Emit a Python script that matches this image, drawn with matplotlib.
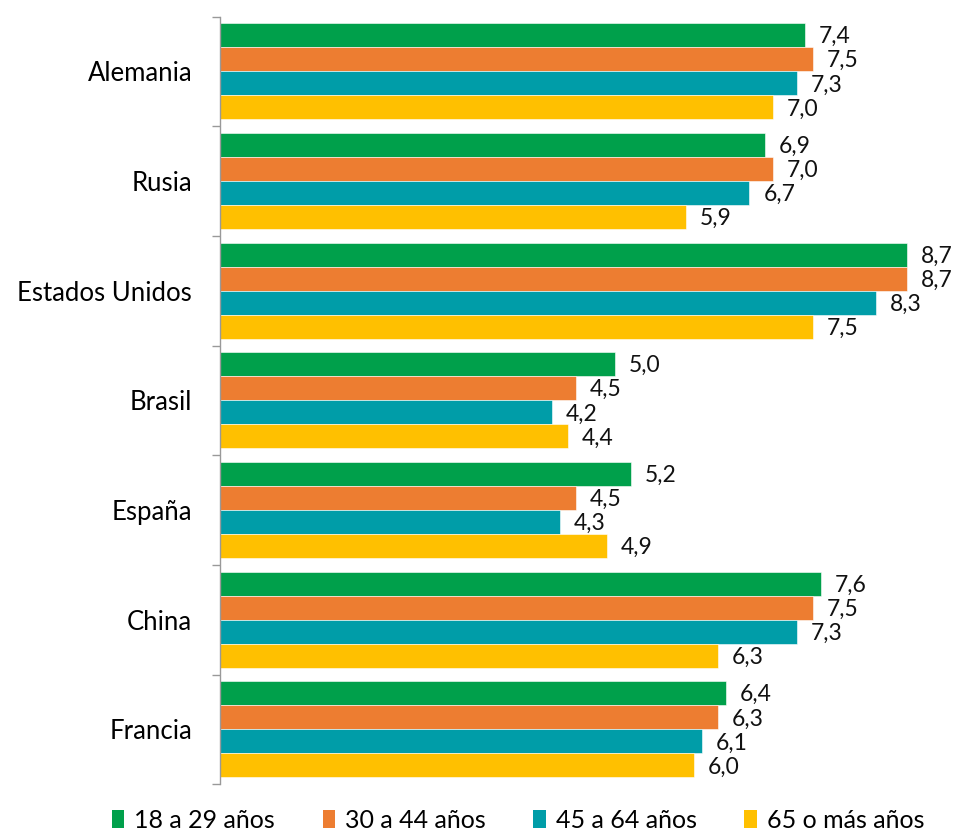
import matplotlib.pyplot as plt
import numpy as np
from matplotlib.patches import Patch

plt.rcParams["font.family"] = ["Lato", "DejaVu Sans"]

countries = ["Alemania", "Rusia", "Estados Unidos", "Brasil", "España", "China", "Francia"]
series = ["18 a 29 años", "30 a 44 años", "45 a 64 años", "65 o más años"]
age_18_29 = [7.4, 6.9, 8.7, 5.0, 5.2, 7.6, 6.4]
age_30_44 = [7.5, 7.0, 8.7, 4.5, 4.5, 7.5, 6.3]
age_45_64 = [7.3, 6.7, 8.3, 4.2, 4.3, 7.3, 6.1]
age_65_plus = [7.0, 5.9, 7.5, 4.4, 4.9, 6.3, 6.0]
colors = ["#00A04B", "#ED7D31", "#009DA8", "#FFC000"]

values = [age_18_29, age_30_44, age_45_64, age_65_plus]

fig = plt.figure(figsize=(9.56, 8.31), dpi=100)
ax = fig.add_axes([0.230, 0.0562, 0.744, 0.9238])

y = np.arange(len(countries))
h = 0.219
for k, (vals, col) in enumerate(zip(values, colors)):
    pos = y + (k - 1.5) * h
    bars = ax.barh(pos, vals, height=h, color=col, edgecolor="white", linewidth=0.4)
    for b, v in zip(bars, vals):
        ax.annotate(f"{v:.1f}".replace(".", ","),
                    (b.get_width(), b.get_y() + b.get_height() / 2),
                    xytext=(10, -1), textcoords="offset points",
                    ha="left", va="center", fontsize=16.5, color="#111111")

ax.set_xlim(0, 9.0)
ax.set_ylim(len(countries) - 0.5, -0.5)
ax.set_yticks(y)
ax.set_yticklabels(countries, fontsize=18.5)
ax.set_yticks(np.arange(len(countries) + 1) - 0.5, minor=True)
ax.tick_params(axis="y", which="major", length=0, pad=20)
ax.tick_params(axis="y", which="minor", length=6, color="#999999", width=1)
ax.set_xticks([])
for s in ["top", "right", "bottom"]:
    ax.spines[s].set_visible(False)
ax.spines["left"].set_color("#999999")
ax.spines["left"].set_linewidth(1)

handles = [Patch(facecolor=c, label=s) for c, s in zip(colors, series)]
fig.legend(handles=handles, loc="center", bbox_to_anchor=(0.542, 0.013), ncol=4,
           frameon=False, fontsize=18, handlelength=0.5, handleheight=0.75,
           handletextpad=0.4, columnspacing=1.9)

fig.savefig("out.png", dpi=100)
